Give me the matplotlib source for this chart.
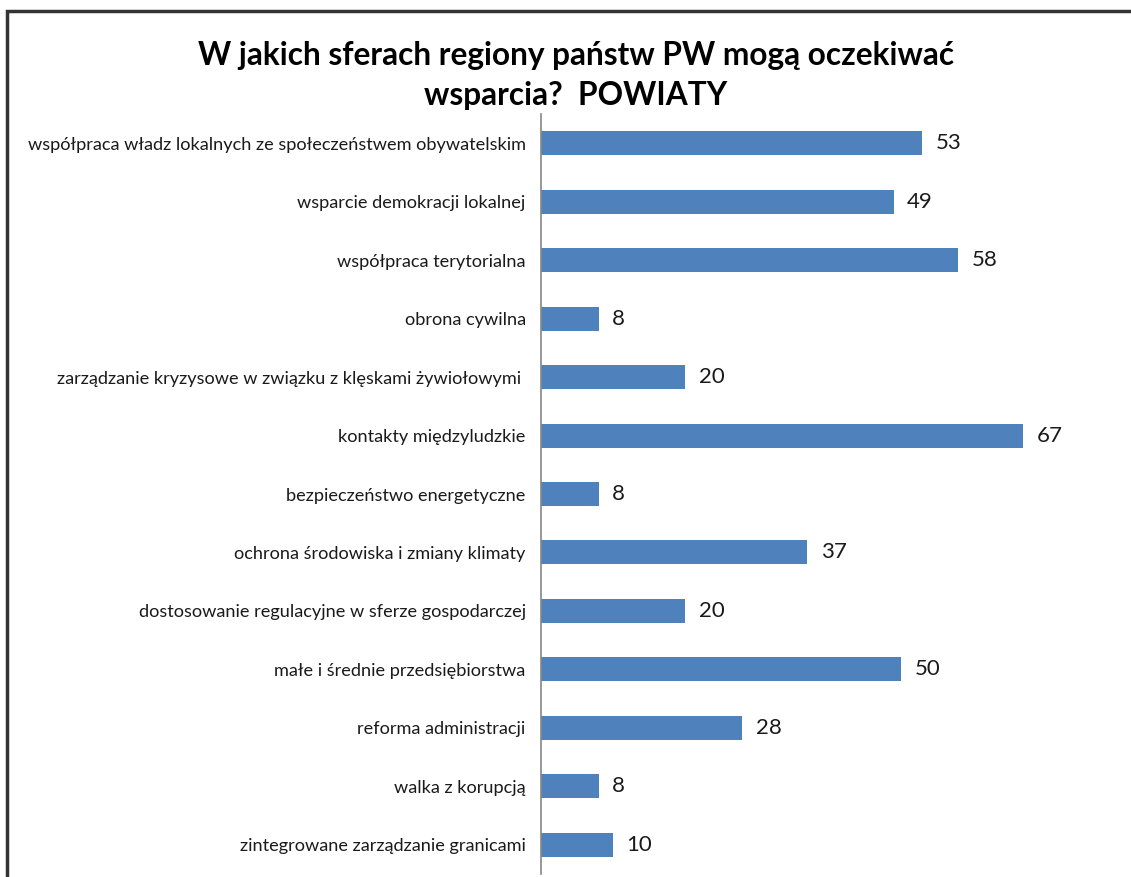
import matplotlib.pyplot as plt
from matplotlib.patches import Rectangle

# Data (top to bottom)
categories = [
    "współpraca władz lokalnych ze społeczeństwem obywatelskim",
    "wsparcie demokracji lokalnej",
    "współpraca terytorialna",
    "obrona cywilna",
    "zarządzanie kryzysowe w związku z klęskami żywiołowymi ",
    "kontakty międzyludzkie",
    "bezpieczeństwo energetyczne",
    "ochrona środowiska i zmiany klimaty",
    "dostosowanie regulacyjne w sferze gospodarczej",
    "małe i średnie przedsiębiorstwa",
    "reforma administracji",
    "walka z korupcją",
    "zintegrowane zarządzanie granicami",
]
values = [53, 49, 58, 8, 20, 67, 8, 37, 20, 50, 28, 8, 10]
title = "W jakich sferach regiony państw PW mogą oczekiwać\nwsparcia?  POWIATY"

plt.rcParams['font.family'] = ['Lato', 'DejaVu Sans']

W, H = 1131, 877
fig = plt.figure(figsize=(W / 100, H / 100), dpi=100)

# frame of the original (cropped on the right and bottom)
fig.patches.append(Rectangle((7 / W, -0.05), 1.2, 1 - 11 / H + 0.05,
                             transform=fig.transFigure, fill=False,
                             edgecolor='#333333', linewidth=2.5))

ax = fig.add_axes([541 / W, 3 / H, (W - 541) / W, (874 - 114) / H])

pos = list(range(len(categories)))
ax.barh(pos, values, height=0.41, color='#4F81BD')
ax.set_ylim(len(categories) - 0.5, -0.5)
ax.set_xlim(0, 82)

for p, v in zip(pos, values):
    ax.text(v + 1.9, p, str(v), va='center', ha='left', fontsize=16, color='#1a1a1a')

ax.set_yticks(pos)
ax.set_yticklabels(categories, fontsize=13.1, color='#1a1a1a')
ax.tick_params(axis='y', length=0, pad=11)
ax.set_xticks([])
for s in ['top', 'right', 'bottom']:
    ax.spines[s].set_visible(False)
ax.spines['left'].set_color('#868686')
ax.spines['left'].set_linewidth(1.2)

fig.text(576 / W, 1 - 41 / H, title, ha='center', va='top', fontsize=22.8,
         fontweight='bold', linespacing=1.45, color='black')

fig.savefig('out.png', dpi=100)
